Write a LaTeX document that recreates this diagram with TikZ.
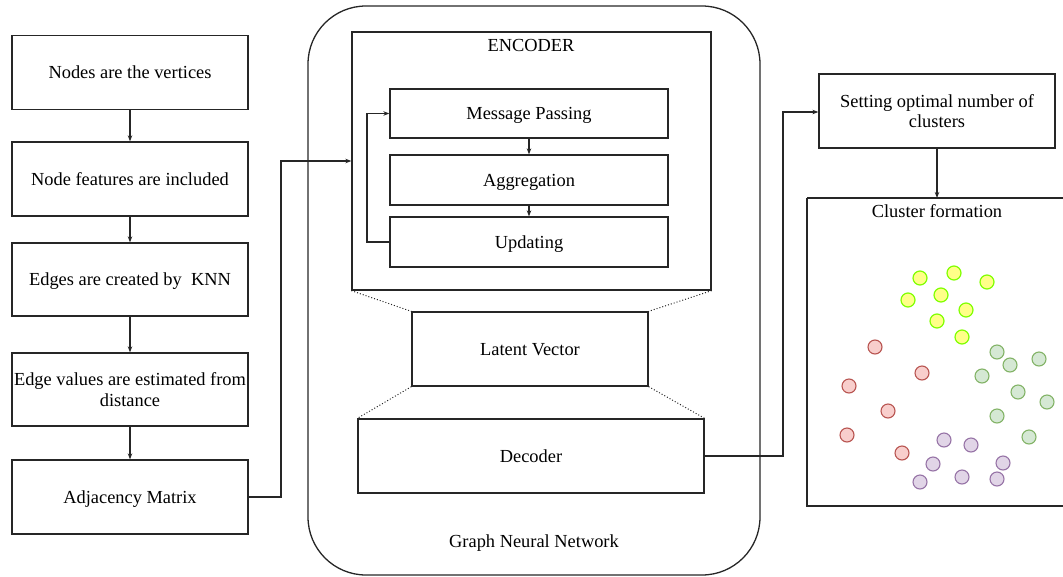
\documentclass[tikz,border=0pt]{standalone}
\usepackage{fontspec}
\setmainfont{Liberation Serif}
\usetikzlibrary{arrows.meta}

\definecolor{edgegray}{HTML}{262626}
\definecolor{ylwfill}{HTML}{FFFF88}
\definecolor{ylwline}{HTML}{80FF00}
\definecolor{redfill}{HTML}{F8CECC}
\definecolor{redline}{HTML}{B85450}
\definecolor{grnfill}{HTML}{D5E8D4}
\definecolor{grnline}{HTML}{82B366}
\definecolor{purfill}{HTML}{E1D5E7}
\definecolor{purline}{HTML}{9673A6}

\tikzset{
  box/.style={draw=edgegray, line width=1.3pt, rectangle, inner sep=0pt,
              align=center, text depth=0pt, font=\fontsize{18.4}{20.5}\selectfont},
  flow/.style={draw=edgegray, line width=1.1pt, -{Stealth[length=6pt,width=4.5pt]}},
  dotline/.style={draw=edgegray, line width=1pt, dotted},
  lbl/.style={font=\fontsize{18.4}{20.5}\selectfont, inner sep=0pt},
  dotY/.style={circle, inner sep=0pt, minimum size=14pt, line width=1.2pt, draw=ylwline, fill=ylwfill},
  dotR/.style={circle, inner sep=0pt, minimum size=14pt, line width=1.1pt, draw=redline, fill=redfill},
  dotG/.style={circle, inner sep=0pt, minimum size=14pt, line width=1.1pt, draw=grnline, fill=grnfill},
  dotP/.style={circle, inner sep=0pt, minimum size=14pt, line width=1.1pt, draw=purline, fill=purfill},
}

\begin{document}
\begin{tikzpicture}[x=1pt, y=-1pt]
\useasboundingbox (0,0) rectangle (1063,576);

% ---------- preprocessing chain ----------
\node[box, minimum width=236pt, minimum height=74pt] (n1) at (130,72.5) {Nodes are the vertices};
\node[box, minimum width=236pt, minimum height=74pt] (n2) at (130,179) {Node features are included};
\node[box, minimum width=236pt, minimum height=73pt] (n3) at (130,279.5) {Edges are created by\ \ KNN};
\node[box, minimum width=236pt, minimum height=73pt] (n4) at (130,389.5) {Edge values are estimated from\\distance};
\node[box, minimum width=236pt, minimum height=74pt] (n5) at (130,497) {Adjacency Matrix};

\draw[flow] (n1) -- (n2);
\draw[flow] (n2) -- (n3);
\draw[flow] (n3) -- (n4);
\draw[flow] (n4) -- (n5);

% ---------- graph neural network ----------
\draw[edgegray, line width=1.3pt, rounded corners=58pt] (308,6) rectangle (760,575);
\node[lbl] (gnn) at (534,543) {Graph Neural Network};

\node[box, minimum width=359pt, minimum height=258pt] (enc) at (531.5,161) {};
\node[lbl] (enclbl) at (531,45) {ENCODER};

\node[box, minimum width=278pt, minimum height=49pt] (mp) at (529,113.5) {Message Passing};
\node[box, minimum width=278pt, minimum height=50pt] (agg) at (529,180) {Aggregation};
\node[box, minimum width=278pt, minimum height=50pt] (upd) at (529,242) {Updating};

\draw[flow] (mp) -- (agg);
\draw[flow] (agg) -- (upd);
\coordinate (loop) at (367,242);
\draw[flow] (upd.west) -- (loop) |- (mp.west);

\node[box, minimum width=236pt, minimum height=74pt] (lat) at (530,349) {Latent Vector};
\node[box, minimum width=346pt, minimum height=74pt] (dec) at (531,456) {Decoder};

\draw[dotline] (enc.south west) -- (lat.north west);
\draw[dotline] (enc.south east) -- (lat.north east);
\draw[dotline] (lat.south west) -- (dec.north west);
\draw[dotline] (lat.south east) -- (dec.north east);

% adjacency matrix feeds the encoder
\coordinate (a1) at (281,497);
\coordinate (a2) at (281,161);
\draw[flow] (n5.east) -- (a1) -- (a2) -- (enc.west |- a2);

% ---------- clustering ----------
\node[box, minimum width=236pt, minimum height=74pt] (opt) at (937,111) {Setting optimal number of\\clusters};
\draw[edgegray, line width=1.3pt] (807,198) -- (1063,198) (807,198) -- (807,506) -- (1063,506);
\coordinate (cf) at (937,198);
\node[lbl] (cflbl) at (937,211) {Cluster formation};

\coordinate (d1) at (783,456);
\coordinate (d2) at (783,112);
\draw[flow] (dec.east) -- (d1) -- (d2) -- (opt.west |- d2);
\draw[flow] (opt.south) -- (cf);

% yellow cluster
\foreach \p [count=\i] in {(920,278),(954,273),(987,282),(908,300),(941,295),(966,310),(937,321),(962,337)}
  \node[dotY] (y\i) at \p {};
% red cluster
\foreach \p [count=\i] in {(875,347),(922,373),(849,386),(888,411),(847,435),(902,453)}
  \node[dotR] (r\i) at \p {};
% green cluster
\foreach \p [count=\i] in {(997,352),(1010,365),(1039,359),(982,376),(1018,392),(1047,402),(997,416),(1029,437)}
  \node[dotG] (g\i) at \p {};
% purple cluster
\foreach \p [count=\i] in {(944,440),(971,445),(933,464),(1003,463),(920,482),(962,477),(997,479)}
  \node[dotP] (p\i) at \p {};
\end{tikzpicture}
\end{document}
